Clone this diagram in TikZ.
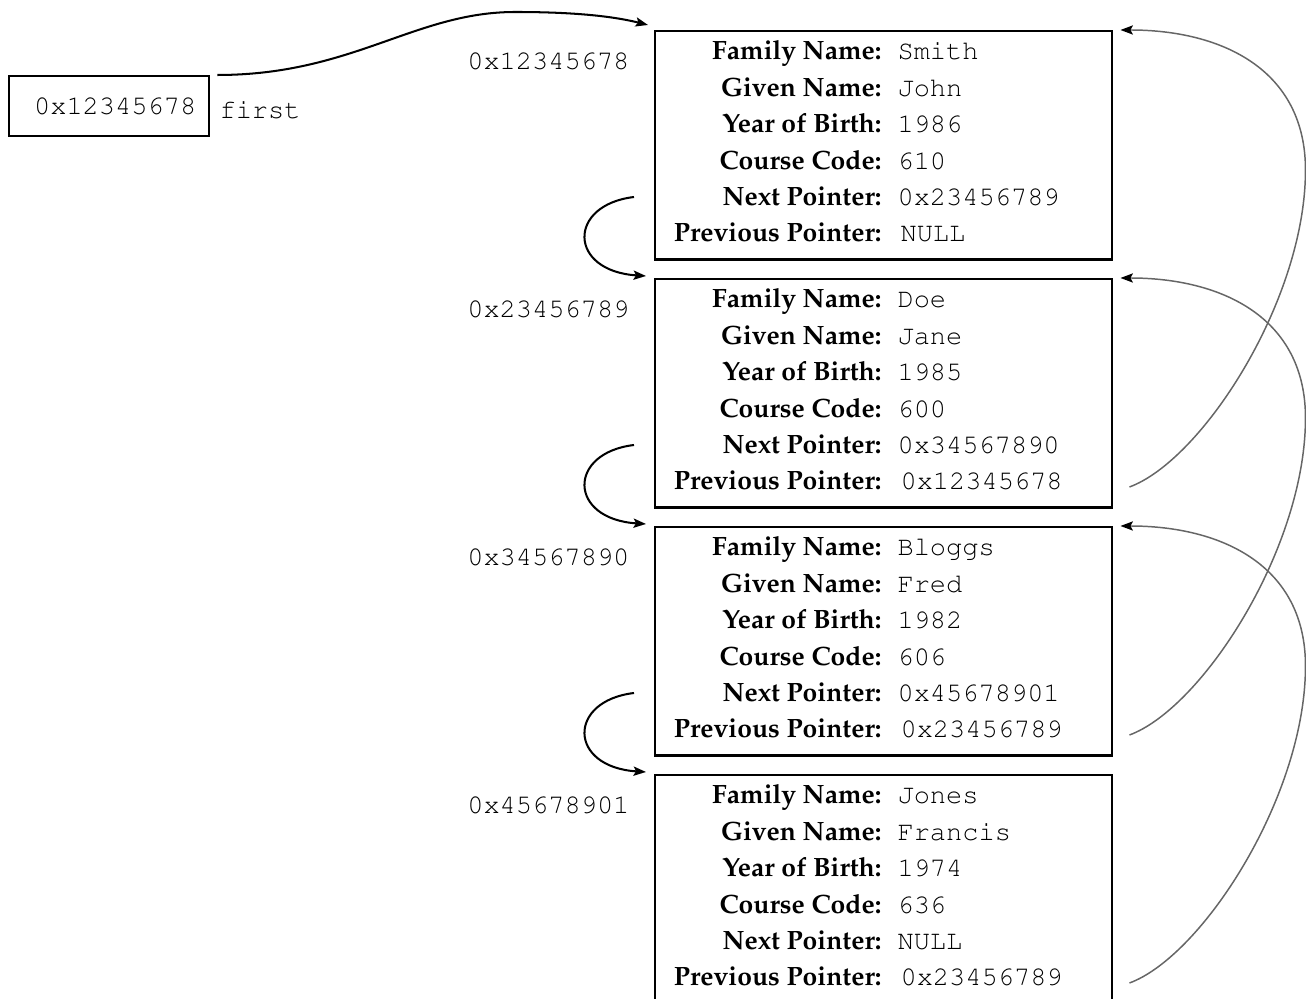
\documentclass[tikz,border=0pt]{standalone}
\usepackage[T1]{fontenc}
\renewcommand{\rmdefault}{ppl}
\renewcommand{\ttdefault}{pcr}
\usetikzlibrary{arrows.meta,calc}

\begin{document}
\begin{tikzpicture}[x=0.37pt,y=-0.37pt,
  box/.style={draw,line width=0.9pt,inner sep=0pt},
  record/.style={box,anchor=north west,minimum width=169.1pt,minimum height=84.4pt},
  mono/.style={font=\ttfamily\fontsize{10}{12}\selectfont,inner sep=0pt},
  field/.style={font=\rmfamily\bfseries\fontsize{9.8}{12}\selectfont,inner sep=0pt,anchor=base east},
  value/.style={mono,anchor=base west},
  addr/.style={mono,anchor=base east},
  tip/.style={-{Stealth[length=4.6pt,width=3.4pt,inset=0.9pt,color=black]}},
  nextarrow/.style={tip,line width=0.75pt},
  prevarrow/.style={tip,line width=0.55pt,draw=black!60},
]
\useasboundingbox (0,0) rectangle (1306,999);

% the head pointer
\node[box,mono,anchor=north west,minimum width=74pt,minimum height=22.2pt,
      inner xsep=4.8pt,text width=64.4pt,align=right] (first) at (8,75) {0x12345678};
\node[mono,anchor=base west] (firstname) at (219,119) {first};

% the four records of the list
\foreach \i/\ad/\fam/\giv/\yr/\cc/\nx/\pv in {
  1/0x12345678/Smith/John/1986/610/0x23456789/NULL,
  2/0x23456789/Doe/Jane/1985/600/0x34567890/0x12345678,
  3/0x34567890/Bloggs/Fred/1982/606/0x45678901/0x23456789,
  4/0x45678901/Jones/Francis/1974/636/NULL/0x23456789}{
  \pgfmathsetmacro\rtop{30+248*(\i-1)}
  \node[record] (rec\i) at (654,\rtop) {};
  \node[addr] (addr\i) at (630,\rtop+40) {\ad};
  \node[field] (rec\i-l1) at (882,\rtop+30)    {Family Name:};
  \node[value] (rec\i-v1) at (897,\rtop+30)    {\fam};
  \node[field] (rec\i-l2) at (882,\rtop+66.4)  {Given Name:};
  \node[value] (rec\i-v2) at (897,\rtop+66.4)  {\giv};
  \node[field] (rec\i-l3) at (882,\rtop+102.8) {Year of Birth:};
  \node[value] (rec\i-v3) at (897,\rtop+102.8) {\yr};
  \node[field] (rec\i-l4) at (882,\rtop+139.2) {Course Code:};
  \node[value] (rec\i-v4) at (897,\rtop+139.2) {\cc};
  \node[field] (rec\i-l5) at (882,\rtop+175.6) {Next Pointer:};
  \node[value] (rec\i-v5) at (897,\rtop+175.6) {\nx};
  \node[field] (rec\i-l6) at (882,\rtop+212)   {Previous Pointer:};
  \node[value] (rec\i-v6) at (900,\rtop+212)   {\pv};
}

% head pointer to the first record
\draw[nextarrow] ($(first.north east)+(7,0)$)
  .. controls +(135,0) and +(-100,0) .. (515,12)
  .. controls +(50,0) and +(-40,-10) .. ($(rec1.north west)+(-6,-5)$);

% next and previous links
\foreach \i/\j in {1/2,2/3,3/4}{
  \draw[nextarrow] ($(rec\i.north west)+(-20,167)$)
    .. controls +(-67,8) and +(-78,-5) .. ($(rec\j.north west)+(-8,-2)$);
  \draw[prevarrow] ($(rec\j.north east)+(16,209)$)
    .. controls +(73,-27) and +(0,130) .. ($(rec\i.north east)+(192,140)$)
    .. controls +(0,-100) and +(102,0) .. ($(rec\i.north east)+(7,0)$);
}
\end{tikzpicture}
\end{document}
